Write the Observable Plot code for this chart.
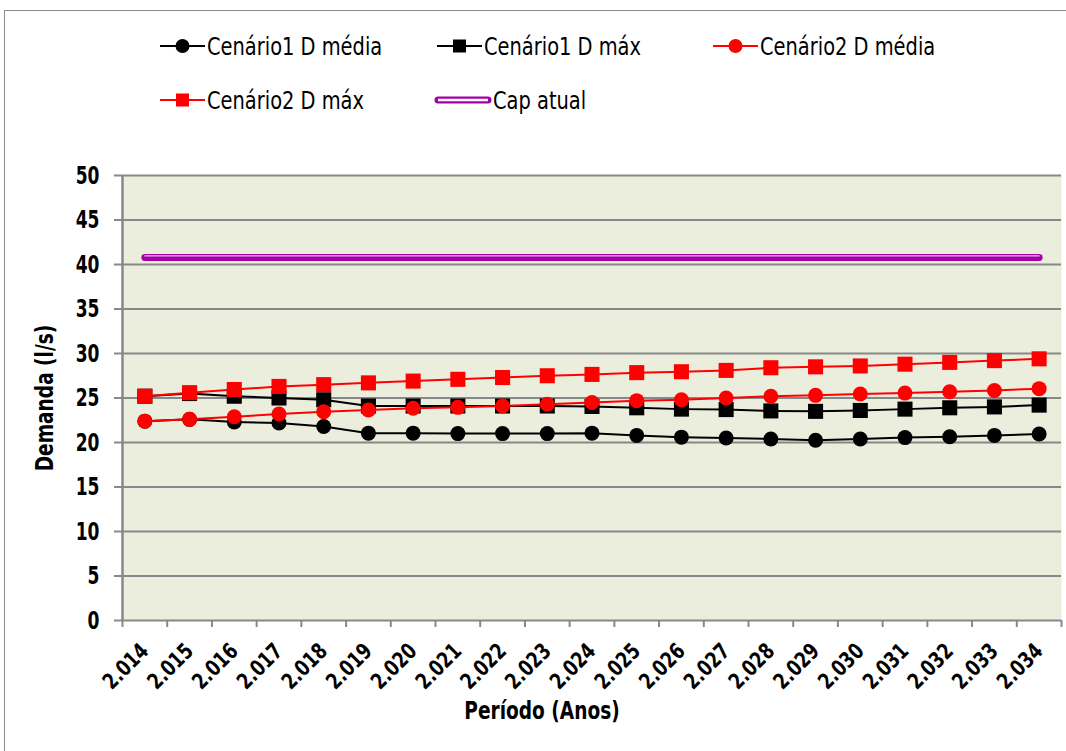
<!DOCTYPE html>
<html>
<head>
<meta charset="utf-8">
<script src="https://cdn.jsdelivr.net/npm/d3@7"></script>
<script src="https://cdn.jsdelivr.net/npm/@observablehq/plot@0.6"></script>
<style>
  html, body { margin: 0; padding: 0; background: #fff; }
  #wrap { position: relative; width: 1066px; height: 751px; overflow: hidden; }
  #border { position: absolute; left: 4px; top: 10px; width: 1100px; height: 800px;
            border-top: 1.5px solid #8a8a8a; border-left: 1.5px solid #8a8a8a; }
  #chart { position: absolute; left: 0; top: 0; }
  #legend { position: absolute; left: 0; top: 0; }
</style>
</head>
<body>
<div id="wrap">
  <div id="border"></div>
  <div id="chart"></div>
  <svg id="legend" width="1066" height="130"></svg>
</div>
<script>
const years = ["2.014","2.015","2.016","2.017","2.018","2.019","2.020","2.021","2.022","2.023","2.024",
               "2.025","2.026","2.027","2.028","2.029","2.030","2.031","2.032","2.033","2.034"];
const c1Media = [22.4,22.6,22.3,22.2,21.8,21.05,21.05,21.0,21.0,21.0,21.05,20.8,20.6,20.5,20.4,20.25,20.4,20.55,20.65,20.8,20.95];
const c1Max   = [25.2,25.5,25.2,25.0,24.8,24.1,24.1,24.1,24.1,24.1,24.05,23.9,23.75,23.7,23.55,23.5,23.6,23.75,23.9,24.0,24.2];
const c2Media = [22.4,22.6,22.9,23.2,23.45,23.65,23.85,23.95,24.1,24.3,24.5,24.7,24.8,25.0,25.2,25.3,25.45,25.55,25.7,25.85,26.05];
const c2Max   = [25.2,25.6,25.95,26.3,26.5,26.7,26.9,27.1,27.3,27.5,27.65,27.85,27.95,28.1,28.4,28.5,28.6,28.8,29.0,29.2,29.4];
const capAtual = years.map(() => 40.8);
const yTicks = [0,5,10,15,20,25,30,35,40,45,50];
const seriesNames = ["Cenário1 D média","Cenário1 D máx","Cenário2 D média","Cenário2 D máx","Cap atual"];
const xTitle = "Período (Anos)";
const yTitle = "Demanda (l/s)";

const FONT = '"Liberation Sans Narrow","Arial Narrow","DejaVu Sans Condensed","Roboto Condensed",sans-serif';
const toRows = (vals) => vals.map((v, i) => ({i, v}));
const idx = years.map((_, i) => i);
const bounds = years.concat([""]).map((_, i) => i - 0.5);

const plot = Plot.plot({
  width: 1066,
  height: 751,
  marginLeft: 122,
  marginRight: 5,
  marginTop: 175,
  marginBottom: 131,
  style: {fontFamily: FONT, background: "transparent", overflow: "visible"},
  x: {domain: [-0.5, 20.5], axis: null},
  y: {domain: [0, 50], axis: null},
  marks: [
    Plot.frame({fill: "#ebeedd", stroke: null}),
    Plot.gridY(yTicks, {stroke: "#888", strokeOpacity: 1, strokeWidth: 2}),
    Plot.axisY(yTicks, {tickSize: 8, stroke: "#888", strokeWidth: 2, tickPadding: 15, fontSize: 25,
                        fontWeight: "bold", fill: "black", label: null, className: "ytl"}),
    Plot.ruleX([-0.5], {stroke: "#888", strokeWidth: 2.5}),
    Plot.axisX(bounds, {tickSize: 7, stroke: "#888", strokeWidth: 2, tickFormat: () => "", label: null}),
    Plot.axisX(idx, {tickSize: 0, tickRotate: -45, tickPadding: 27, tickFormat: i => years[i],
                     fontSize: 22, fontWeight: "bold", fill: "black", label: null, className: "xtl"}),
    Plot.text([xTitle], {frameAnchor: "bottom", dx: -50, dy: 98, fontSize: 24, fontWeight: "bold", fill: "black", className: "xt"}),
    Plot.text([yTitle], {frameAnchor: "left", textAnchor: "middle", dx: -77, rotate: -90, fontSize: 24, fontWeight: "bold", fill: "black", className: "yt"}),
    // Cenário1 D média
    Plot.line(toRows(c1Media), {x: "i", y: "v", stroke: "black", strokeWidth: 2}),
    Plot.dot(toRows(c1Media), {x: "i", y: "v", r: 7.5, fill: "black", symbol: "circle"}),
    // Cenário1 D máx
    Plot.line(toRows(c1Max), {x: "i", y: "v", stroke: "black", strokeWidth: 2}),
    Plot.dot(toRows(c1Max), {x: "i", y: "v", r: 8.5, fill: "black", symbol: "square"}),
    // Cenário2 D média
    Plot.line(toRows(c2Media), {x: "i", y: "v", stroke: "#ff0000", strokeWidth: 2}),
    Plot.dot(toRows(c2Media), {x: "i", y: "v", r: 7.5, fill: "#ff0000", symbol: "circle"}),
    // Cenário2 D máx
    Plot.line(toRows(c2Max), {x: "i", y: "v", stroke: "#ff0000", strokeWidth: 2}),
    Plot.dot(toRows(c2Max), {x: "i", y: "v", r: 8.5, fill: "#ff0000", symbol: "square"}),
    // Cap atual
    Plot.line(toRows(capAtual), {x: "i", y: "v", stroke: "#a400aa", strokeWidth: 7, strokeLinecap: "round"}),
    Plot.line(toRows(capAtual), {x: "i", y: "v", stroke: "#eab8ea", strokeWidth: 1.2, dy: -1.5})
  ]
});
document.getElementById("chart").appendChild(plot);

// Emulate a narrow typeface by condensing text horizontally
function squeeze(sel, factor) {
  document.querySelectorAll(sel).forEach(t => {
    const len = t.getComputedTextLength();
    if (len > 0) {
      t.setAttribute("textLength", (len * factor).toFixed(1));
      t.setAttribute("lengthAdjust", "spacingAndGlyphs");
    }
  });
}
squeeze(".ytl text", 0.76);
squeeze(".xtl text", 0.86);
squeeze(".xt text", 0.86);
squeeze(".yt text", 0.86);

// Legend
const lg = d3.select("#legend");
const items = [
  {name: seriesNames[0], x: 160, y: 46, color: "black", sym: "circle"},
  {name: seriesNames[1], x: 437, y: 46, color: "black", sym: "square"},
  {name: seriesNames[2], x: 713, y: 46, color: "#ff0000", sym: "circle"},
  {name: seriesNames[3], x: 160, y: 100, color: "#ff0000", sym: "square"},
  {name: seriesNames[4], x: 435, y: 100, color: "#a400aa", sym: "cap"}
];
for (const it of items) {
  const g = lg.append("g").attr("transform", `translate(${it.x},${it.y})`);
  if (it.sym === "cap") {
    g.append("line").attr("x1", 3).attr("x2", 53).attr("y1", 0).attr("y2", 0)
      .attr("stroke", "#a400aa").attr("stroke-width", 7).attr("stroke-linecap", "round");
    g.append("line").attr("x1", 3).attr("x2", 53).attr("y1", 0).attr("y2", 0)
      .attr("stroke", "#ffffff").attr("stroke-width", 2.5);
  } else {
    g.append("line").attr("x1", 0).attr("x2", 45).attr("y1", 0).attr("y2", 0)
      .attr("stroke", it.color).attr("stroke-width", 2);
    if (it.sym === "circle") g.append("circle").attr("cx", 22.5).attr("cy", 0).attr("r", 7).attr("fill", it.color);
    else g.append("rect").attr("x", 16).attr("y", -6.5).attr("width", 13).attr("height", 13).attr("fill", it.color);
  }
  g.append("text").attr("class", "lgt").attr("x", it.sym === "cap" ? 58 : 47).attr("y", 0).attr("dy", "0.36em")
    .attr("font-family", FONT).attr("font-size", 24).attr("fill", "black").text(it.name);
}
squeeze(".lgt", 0.9);
</script>
</body>
</html>
